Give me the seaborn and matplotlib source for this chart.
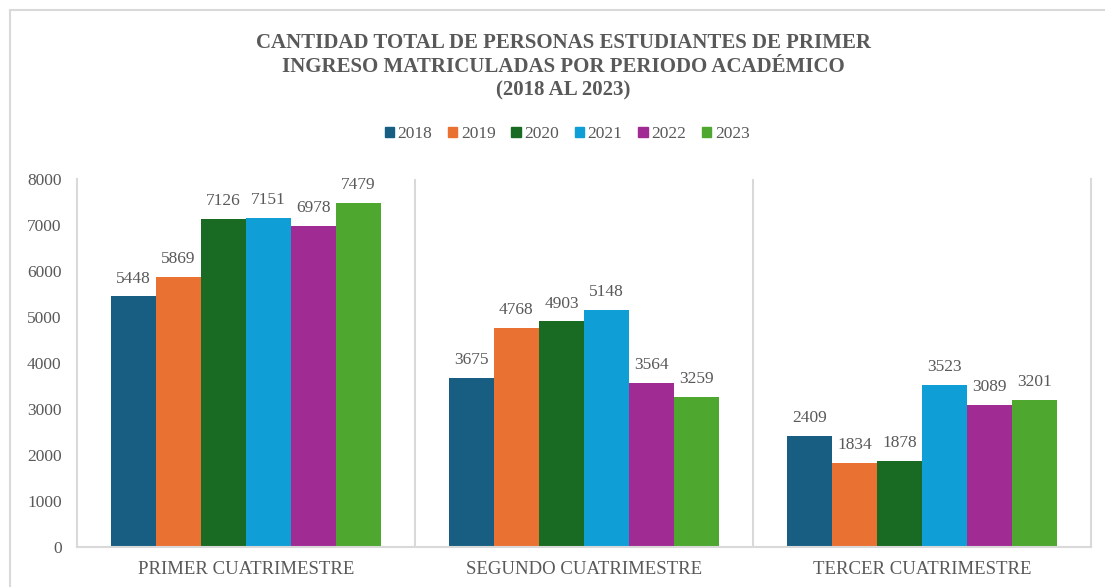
import matplotlib
matplotlib.use("Agg")
import matplotlib.pyplot as plt
import matplotlib.patches as mpatches
import seaborn as sns
import pandas as pd

periodos = ["PRIMER CUATRIMESTRE", "SEGUNDO CUATRIMESTRE", "TERCER CUATRIMESTRE"]
anios = ["2018", "2019", "2020", "2021", "2022", "2023"]
v2018 = [5448, 3675, 2409]
v2019 = [5869, 4768, 1834]
v2020 = [7126, 4903, 1878]
v2021 = [7151, 5148, 3523]
v2022 = [6978, 3564, 3089]
v2023 = [7479, 3259, 3201]
colores = ["#175E82", "#E97132", "#196B24", "#0F9ED5", "#A02B93", "#4EA72E"]
titulo = ("CANTIDAD TOTAL DE PERSONAS ESTUDIANTES DE PRIMER\n"
          "INGRESO MATRICULADAS POR PERIODO ACADÉMICO\n(2018 AL 2023)")

series = [v2018, v2019, v2020, v2021, v2022, v2023]
rows = []
for a, vals in zip(anios, series):
    for p, v in zip(periodos, vals):
        rows.append({"periodo": p, "anio": a, "valor": v})
df = pd.DataFrame(rows)

sns.set_style("white")
plt.rcParams["font.family"] = ["Liberation Serif", "DejaVu Serif"]

W, H = 1105, 587
fig = plt.figure(figsize=(W / 100, H / 100), dpi=100)
ax = fig.add_axes([77 / W, 1 - 547 / H, (1091 - 77) / W, (547 - 179) / H])

sns.barplot(data=df, x="periodo", y="valor", hue="anio", order=periodos,
            hue_order=anios, palette=colores, saturation=1, width=0.8,
            linewidth=0, errorbar=None, ax=ax)

gris = "#595959"
linea = "#D9D9D9"
ax.set_ylim(0, 8000)
ax.set_xlim(-0.5, 2.5)
ax.set_yticks(range(0, 8001, 1000))
ax.set_xlabel("")
ax.set_ylabel("")
ax.tick_params(axis="y", length=0, pad=11, labelsize=12.5, labelcolor=gris)
ax.tick_params(axis="x", length=0, pad=10, labelsize=13.5, labelcolor=gris)
for s in ["left", "right", "bottom"]:
    ax.spines[s].set_color(linea)
    ax.spines[s].set_linewidth(1.5)
ax.spines["top"].set_visible(False)
for xv in [0.5, 1.5]:
    ax.axvline(xv, color=linea, linewidth=1.5, zorder=0)
ax.grid(False)

for cont in ax.containers:
    for bar in cont:
        h = bar.get_height()
        ax.annotate(f"{int(h)}", (bar.get_x() + bar.get_width() / 2, h),
                    xytext=(0, 10), textcoords="offset points",
                    ha="center", va="baseline", fontsize=12.5, color=gris)

ax.legend_.remove()
handles = [mpatches.Patch(color=c) for c in colores]
fig.legend(handles, anios, loc="center", bbox_to_anchor=(567 / W, 1 - 134 / H),
           ncol=6, frameon=False, fontsize=12.5, labelcolor=gris,
           handlelength=0.55, handleheight=0.55, handletextpad=0.2,
           columnspacing=0.9, borderpad=0)

fig.text(563 / W, 1 - 33 / H, titulo, ha="center", va="top", fontsize=15,
         fontweight="bold", color=gris, linespacing=1.25)

fig.patches.append(mpatches.Rectangle((10 / W, -0.1), 1.2, 1.1 - 10 / H,
                                      transform=fig.transFigure, fill=False,
                                      edgecolor=linea, linewidth=1.5))

fig.savefig("out.png", dpi=100)
